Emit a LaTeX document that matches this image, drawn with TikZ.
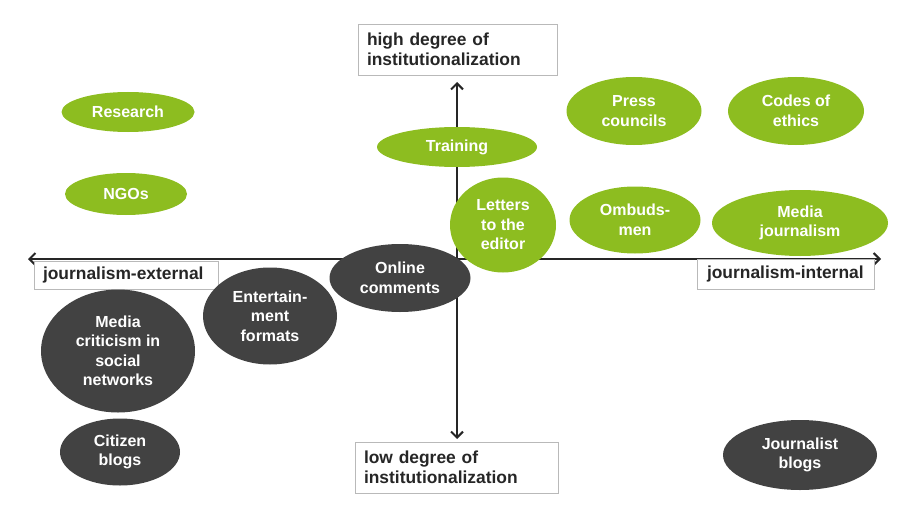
\documentclass[tikz,border=0pt]{standalone}
\usepackage{fontspec}
\setmainfont{Liberation Sans}
\usetikzlibrary{shapes.geometric,arrows.meta}
\definecolor{lime}{RGB}{141,189,32}
\definecolor{darkblob}{RGB}{66,66,66}
\definecolor{boxline}{RGB}{185,185,185}
\definecolor{txt}{RGB}{38,38,38}
\tikzset{
  x=1pt, y=-1pt,
  blob/.style={ellipse, inner sep=0pt, text=white, align=center,
    font=\fontsize{16}{19.5}\selectfont\bfseries},
  gblob/.style={blob, fill=lime},
  dblob/.style={blob, fill=darkblob},
  axisline/.style={draw=txt, line width=2.1pt,
    {Straight Barb[length=6pt,width=12pt,line width=2pt]}-{Straight Barb[length=6pt,width=12pt,line width=2pt]}},
  lbl/.style={rectangle, draw=boxline, line width=0.9pt, fill=white, text=txt,
    inner sep=0pt, align=left, font=\fontsize{17.4}{20.5}\selectfont\bfseries}
}
\begin{document}
\begin{tikzpicture}
\useasboundingbox (0,0) rectangle (909,508);
% axes
\coordinate (L) at (28,259);
\coordinate (R) at (881,259);
\coordinate (T) at (457,82);
\coordinate (B) at (457,439);
\draw[axisline] (L) -- (R);
\draw[axisline] (T) -- (B);
% axis labels
\node[lbl, minimum width=199pt, minimum height=51pt, text width=181pt] (high) at (457.5,49.5) {high degree of\\institutionalization};
\node[lbl, minimum width=203pt, minimum height=51pt, text width=185pt] (low) at (456.5,467.5) {low degree of\\institutionalization};
\node[lbl, minimum width=184pt, minimum height=28pt, text width=166pt] (ext) at (126,275) {journalism-external};
\node[lbl, minimum width=177pt, minimum height=30pt, text width=157pt] (int) at (785.5,274) {journalism-internal};
% green ellipses
\node[gblob, minimum width=133pt, minimum height=40pt] (research) at (128,112) {Research};
\node[gblob, minimum width=122pt, minimum height=42pt] (ngos) at (126,194) {NGOs};
\node[gblob, minimum width=160pt, minimum height=40pt] (training) at (457,147) {Training};
\node[gblob, minimum width=135pt, minimum height=68pt] (press) at (634,111) {Press\\councils};
\node[gblob, minimum width=136pt, minimum height=68pt] (codes) at (796,111) {Codes of\\ethics};
\node[gblob, minimum width=106pt, minimum height=95pt] (letters) at (503,225) {Letters\\to the\\editor};
\node[gblob, minimum width=131pt, minimum height=67pt] (ombuds) at (635,220) {Ombuds-\\men};
\node[gblob, minimum width=176pt, minimum height=66pt] (mediaj) at (800,223) {Media\\journalism};
% dark ellipses
\node[dblob, minimum width=141pt, minimum height=68pt] (online) at (400,278) {Online\\comments};
\node[dblob, minimum width=134pt, minimum height=97pt] (enter) at (270,316) {Entertain-\\ment\\formats};
\node[dblob, minimum width=154pt, minimum height=123pt] (critic) at (118,351) {Media\\criticism in\\social\\networks};
\node[dblob, minimum width=120pt, minimum height=67pt] (citizen) at (120,452) {Citizen\\blogs};
\node[dblob, minimum width=154pt, minimum height=70pt] (jblogs) at (800,455) {Journalist\\blogs};
\end{tikzpicture}
\end{document}
